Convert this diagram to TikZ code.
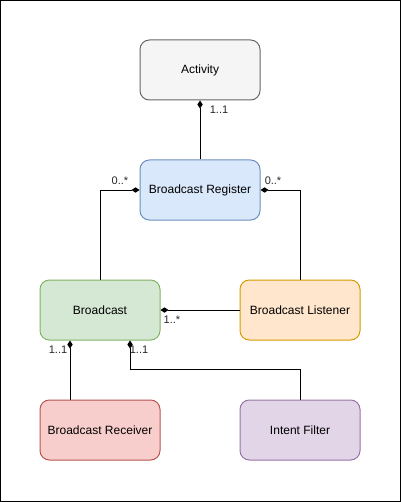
\documentclass[tikz,border=0pt]{standalone}
\usepackage{fontspec}
\setmainfont{Liberation Sans}
\usetikzlibrary{arrows.meta}
\definecolor{actfill}{HTML}{F5F5F5}\definecolor{actline}{HTML}{666666}
\definecolor{regfill}{HTML}{DAE8FC}\definecolor{regline}{HTML}{6C8EBF}
\definecolor{bcfill}{HTML}{D5E8D4}\definecolor{bcline}{HTML}{82B366}
\definecolor{lisfill}{HTML}{FFE6CC}\definecolor{lisline}{HTML}{D79B00}
\definecolor{recfill}{HTML}{F8CECC}\definecolor{recline}{HTML}{B85450}
\definecolor{filfill}{HTML}{E1D5E7}\definecolor{filline}{HTML}{9673A6}
\begin{document}
\begin{tikzpicture}[x=0.75pt,y=-0.75pt,line width=0.75pt,
    class node/.style={rectangle,rounded corners=7pt,draw,minimum width=90pt,minimum height=45pt,font=\fontsize{9}{11}\selectfont},
    mult/.style={font=\fontsize{8.25}{10}\selectfont,inner sep=0pt,text=black!85},
    has/.style={-{Diamond[length=6pt,width=4pt]}}]
        \useasboundingbox (0,0) rectangle (401,502);
        \draw[line width=0.75pt] (0.5,0.5) rectangle (400.5,501.5);

        \node[class node, fill=actfill, draw=actline] at (200, 70) (act) {Activity};
        \node[class node, fill=regfill, draw=regline] at (200, 190) (reg) {Broadcast Register};
        \node[class node, fill=bcfill, draw=bcline] at (100, 310) (bc) {Broadcast};
        \node[class node, fill=lisfill, draw=lisline] at (300, 310) (lis) {Broadcast Listener};
        \node[class node, fill=recfill, draw=recline] at (100, 430) (rec) {Broadcast Receiver};
        \node[class node, fill=filfill, draw=filline] at (300, 430) (fil) {Intent Filter};

        \draw[has] (reg.north) -- (act.south);
        \draw[has] (bc.north) |- (reg.west);
        \draw[has] (lis.north) |- (reg.east);
        \draw[has] (lis.west) -- (bc.east);
        \draw[has] ([xshift=-22.5pt]rec.north) -- ([xshift=-22.5pt]bc.south);
        \draw[has] (fil.north) -- ++(0,-30) -| ([xshift=22.5pt]bc.south);

        \node[mult] at (219, 110) {1..1};
        \node[mult] at (120, 181) {0..*};
        \node[mult] at (273, 181) {0..*};
        \node[mult] at (172, 320) {1..*};
        \node[mult] at (58, 350) {1..1};
        \node[mult] at (139, 350) {1..1};
    \end{tikzpicture}
\end{document}
